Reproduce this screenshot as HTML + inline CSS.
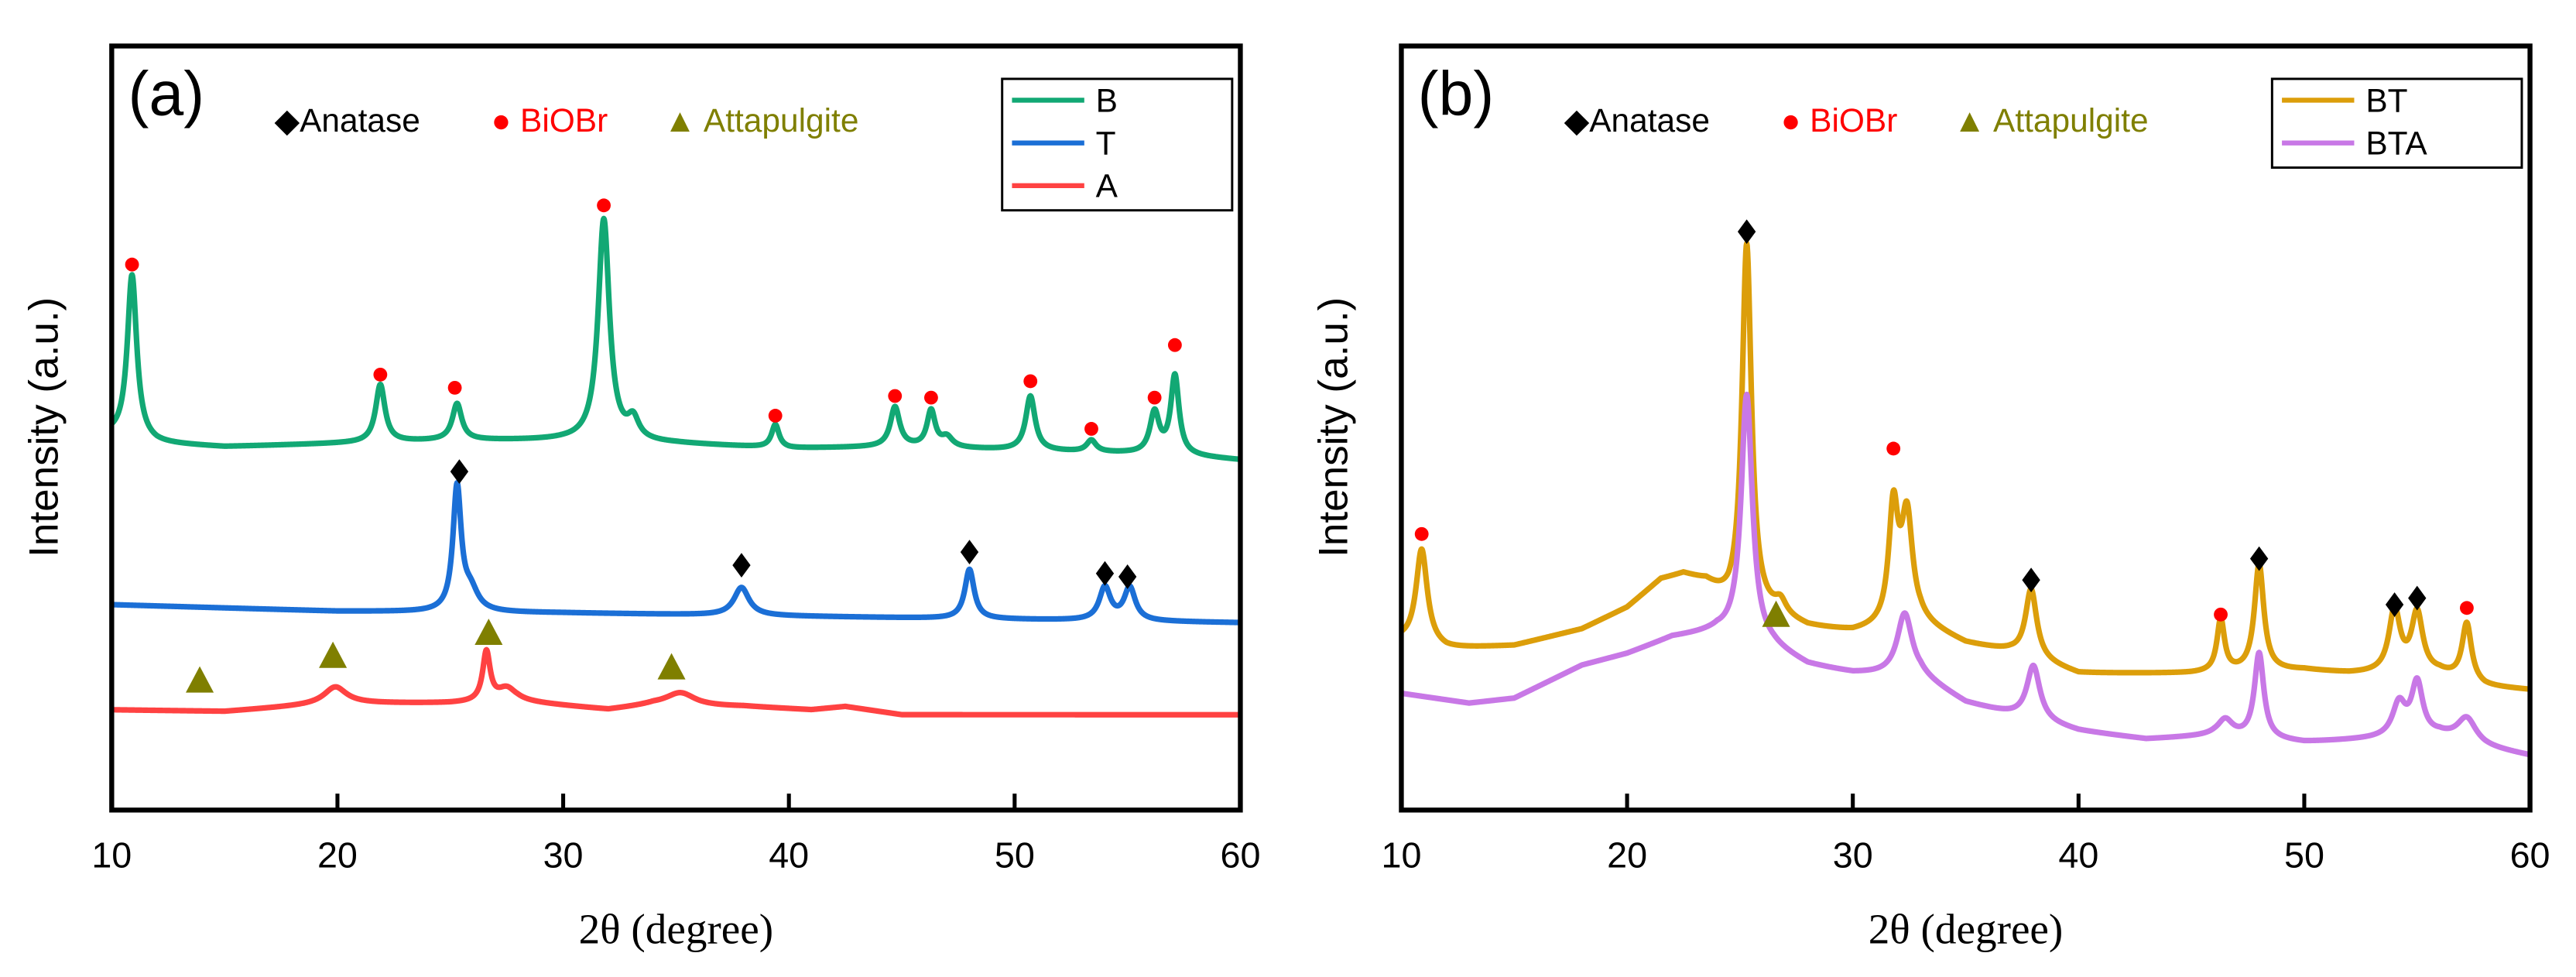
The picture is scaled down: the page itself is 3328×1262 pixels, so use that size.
<!DOCTYPE html>
<html><head><meta charset="utf-8">
<style>
html,body{margin:0;padding:0;background:#fff;}
svg{display:block;}
text{font-family:"Liberation Sans",sans-serif;}
</style></head>
<body>
<svg id="fig" width="3328" height="1262" viewBox="0 0 1568 594.6" preserveAspectRatio="none" xmlns="http://www.w3.org/2000/svg">
</svg>
<script>
// ---- data (intensity in arbitrary units, measured up from the axis bottom) ----
const xTicks = [10, 20, 30, 40, 50, 60];
const xTickLabels = ["10", "20", "30", "40", "50", "60"];

// Panel a
const bBase = [[10,228],[12,223],[15,221],[20,223],[25,225],[30,225],[35,223],[40,220],[45,221],[50,219],[55,217],[58,215],[60,213]];
const bPeaks = [[10.9,100,0.25],[21.9,35,0.25],[25.3,22,0.25],[31.8,135,0.3],[33.1,12,0.3],[39.4,14,0.2],[44.7,24,0.25],[46.3,22,0.22],[47,6,0.3],[50.7,33,0.25],[53.4,7,0.25],[56.2,25,0.25],[57.1,48,0.22]];
const tBase = [[10,125],[20,121],[30,120],[40,118],[50,116],[60,114]];
const tPeaks = [[25.3,75,0.22],[25.9,12,0.4],[37.9,17,0.4],[48.0,30,0.25],[54.0,20,0.3],[55.1,20,0.3]];
const aBase = [[10,61],[15,60],[18,63],[20,65],[25,65],[28,66],[32,61],[34,64],[36,63],[38,63],[41,61],[42.5,63],[45,58],[60,58]];
const aPeaks = [[19.9,10,0.6],[26.6,30,0.2],[27.5,8,0.5],[35.2,8,0.8]];

// Panel b
const btBase = [[10,103],[12,98],[15,100],[18,110],[20,123],[21.5,140],[22.5,143],[23.5,138],[24.5,125],[26.5,118],[28,111],[30,108],[33,113],[35,101],[37,96],[40,83],[45,83],[50,85],[52,83],[56,83],[58,75],[60,73]];
const btPeaks = [[10.9,58,0.3],[25.3,222,0.25],[26.8,8,0.3],[31.8,70,0.25],[32.4,65,0.3],[37.9,42,0.3],[46.3,32,0.2],[48.0,65,0.25],[54.0,38,0.3],[55.0,36,0.3],[57.2,35,0.25]];
const btaBase = [[10,71],[13,65],[15,68],[18,88],[20,95],[22,105],[24,108],[26.5,98],[28,88],[30,83],[33,81],[35,65],[37,58],[40,48],[43,43],[46,45],[50,41],[53,43],[56,45],[58,38],[60,33]];
const btaPeaks = [[25.3,150,0.3],[32.3,38,0.4],[38,33,0.35],[46.5,10,0.4],[48,52,0.25],[54.2,20,0.35],[55,32,0.3],[57.2,15,0.5]];

// markers [2theta, intensity]
const aDots = [[10.9,332],[21.9,265],[25.2,257],[31.8,368],[39.4,240],[44.7,252],[46.3,251],[50.7,261],[53.4,232],[56.2,251],[57.1,283]];
const aDiamonds = [[25.4,206],[37.9,149],[48.0,157],[54.0,144],[55.0,142]];
const aTriangles = [[13.9,79],[19.8,94],[26.7,108],[34.8,87]];
const bDots = [[10.9,168],[31.8,220],[46.3,119],[57.2,123]];
const bDiamonds = [[25.3,352],[37.9,140],[48.0,153],[54.0,125],[55.0,129]];
const bTriangles = [[26.6,119]];

const NS = "http://www.w3.org/2000/svg";
const svg = document.getElementById('fig');
function mk(tag, attrs, parent) {
  const e = document.createElementNS(NS, tag);
  for (const k in attrs) e.setAttribute(k, attrs[k]);
  (parent || svg).appendChild(e);
  return e;
}
const TOP = 28, BOT = 493;
function yS(v) { return BOT - v; }
function interp(base, x) {
  for (let i = 0; i < base.length - 1; i++) {
    if (x >= base[i][0] && x <= base[i+1][0]) {
      const t = (x - base[i][0]) / (base[i+1][0] - base[i][0]);
      return base[i][1] + t * (base[i+1][1] - base[i][1]);
    }
  }
  return base[base.length-1][1];
}
function curve(base, peaks, x) {
  let v = interp(base, x);
  for (const p of peaks) { const d = (x - p[0]) / p[2]; v += p[1] / (1 + d*d); }
  return v;
}

function panel(L, R, label, series, legend, dots, diamonds, triangles, pname) {
  const g = mk('g', {});
  
  
  const xS = d => L + (d - 10) * (R - L) / 50;
  for (const s of series) {
    let dstr = '';
    for (let x = 10; x <= 60.0001; x += 0.02) {
      dstr += (dstr ? 'L' : 'M') + xS(x).toFixed(2) + ',' + yS(curve(s.base, s.peaks, x)).toFixed(2);
    }
    const p = mk('path', {d: dstr, fill: 'none', stroke: s.color, 'stroke-width': 3.4, 'stroke-linejoin': 'round'}, g);
    
    
  }
  for (const m of dots) {
    const c = mk('circle', {cx: xS(m[0]), cy: yS(m[1]), r: 4.2, fill: '#ff0000'}, g);
    
    
  }
  for (const m of diamonds) {
    const x = xS(m[0]), y = yS(m[1]);
    const c = mk('polygon', {points: `${x},${y-7.5} ${x+5.5},${y} ${x},${y+7.5} ${x-5.5},${y}`, fill: '#000'}, g);
    
    
  }
  for (const m of triangles) {
    const x = xS(m[0]), y = yS(m[1]);
    const c = mk('polygon', {points: `${x},${y-8.5} ${x+8.5},${y+7.5} ${x-8.5},${y+7.5}`, fill: '#7f7f00'}, g);
    
    
  }
  const fr = mk('rect', {x: L, y: TOP, width: R - L, height: BOT - TOP, fill: 'none', stroke: '#000', 'stroke-width': 3}, g);
  
  
  xTicks.forEach((t, i) => {
    const x = xS(t);
    if (i > 0 && i < xTicks.length - 1) {
      const tk = mk('line', {x1: x, y1: BOT, x2: x, y2: BOT - 10, stroke: '#000', 'stroke-width': 2.4}, g);
      
      
    }
    const tl = mk('text', {x: x, y: 528, 'font-size': 22, 'text-anchor': 'middle'}, g);
    tl.textContent = xTickLabels[i];
    
    
  });
  const xt = mk('text', {x: (L + R) / 2, y: 574, 'font-size': 26, 'text-anchor': 'middle', style: 'font-family:"Liberation Serif",serif'}, g);
  xt.textContent = '2θ (degree)';
  
  
  const yt = mk('text', {x: 0, y: 0, 'font-size': 25, 'text-anchor': 'middle', transform: `translate(${L - 33},260) rotate(-90)`}, g);
  yt.textContent = 'Intensity (a.u.)';
  
  
  const pl = mk('text', {x: L + 10, y: 70, 'font-size': 38}, g);
  pl.textContent = label;
  
  
  const k1 = mk('text', {x: L + 99, y: 80, 'font-size': 20}, g);
  k1.textContent = '◆Anatase';
  
  
  const k2 = mk('text', {x: L + 231, y: 80, 'font-size': 20, fill: '#ff0000'}, g);
  k2.textContent = '● BiOBr';
  
  
  const k3 = mk('text', {x: L + 336, y: 80, 'font-size': 20, fill: '#7f7f00'}, g);
  k3.textContent = '▲ Attapulgite';
  
  
  const lx = legend.x, ly = 48, rowH = 26;
  const lb = mk('rect', {x: lx, y: ly, width: legend.w, height: rowH * series.length + 2, fill: '#fff', stroke: '#000', 'stroke-width': 1.4}, g);
  
  
  series.forEach((s, i) => {
    const cy = ly + 13 + i * rowH;
    const ln = mk('line', {x1: lx + 6, y1: cy, x2: lx + 50, y2: cy, stroke: s.color, 'stroke-width': 3}, g);
    
    
    const lt = mk('text', {x: lx + 57, y: cy + 7, 'font-size': 20}, g);
    lt.textContent = s.name;
    
    
  });
}

panel(68, 755, '(a)', [
  {name: 'B', color: '#12a874', base: bBase, peaks: bPeaks},
  {name: 'T', color: '#1b6fd6', base: tBase, peaks: tPeaks},
  {name: 'A', color: '#ff4242', base: aBase, peaks: aPeaks}
], {x: 610, w: 140}, aDots, aDiamonds, aTriangles, 'panel-a');

panel(853, 1540, '(b)', [
  {name: 'BT', color: '#dc9e0a', base: btBase, peaks: btPeaks},
  {name: 'BTA', color: '#c878e6', base: btaBase, peaks: btaPeaks}
], {x: 1383, w: 152}, bDots, bDiamonds, bTriangles, 'panel-b');
</script>
</body></html>
